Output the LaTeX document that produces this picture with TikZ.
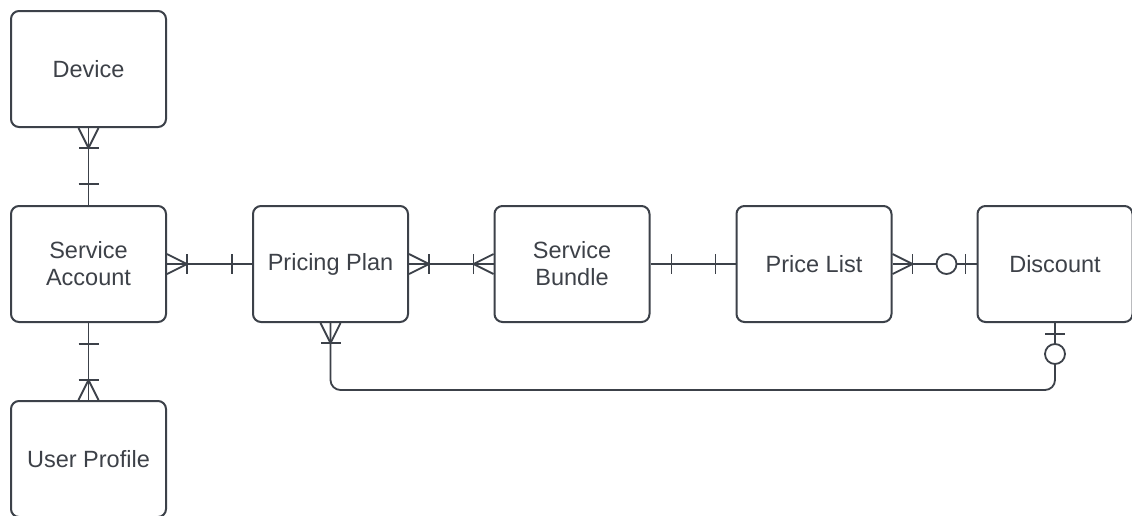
\documentclass[tikz,border=0pt]{standalone}
\usepackage{fontspec}
\setmainfont{Liberation Sans}
\definecolor{lncol}{HTML}{3C4149}
\definecolor{txcol}{HTML}{3D4148}
\tikzset{
  entity/.style={draw=lncol, line width=2pt, rounded corners=8pt, fill=white,
    minimum width=155pt, minimum height=116pt, inner sep=0pt, align=center,
    text=txcol, font=\fontsize{23.5}{27}\selectfont},
  rel/.style={draw=lncol, line width=1.8pt},
  crowmany/.pic={\draw[rel] (0pt,10pt) -- (20pt,0pt) -- (0pt,-10pt); \draw[rel] (20pt,10pt) -- (20pt,-10pt);},
  barone/.pic={\draw[rel] (0pt,10pt) -- (0pt,-10pt);},
  ringzero/.pic={\draw[rel, fill=white] (0pt,0pt) circle (10pt);}
}
\begin{document}
\begin{tikzpicture}[x=1pt,y=-1pt]
\path[use as bounding box, fill=white] (0,0) rectangle (1132,515);
\node[entity] (dev) at (88.5,69) {Device};
\node[entity] (sa) at (88.5,264) {Service\\Account};
\node[entity] (up) at (88.5,459) {User Profile};
\node[entity] (pp) at (330.5,264) {Pricing Plan};
\node[entity] (sb) at (572,264) {Service\\Bundle};
\node[entity] (pl) at (814,264) {Price List};
\node[entity] (disc) at (1055,264) {Discount};
% connectors
\draw[rel] (dev.south) -- (sa.north);
\draw[rel] (sa.south) -- (up.north);
\draw[rel] (sa.east) -- (pp.west);
\draw[rel] (pp.east) -- (sb.west);
\draw[rel] (sb.east) -- (pl.west);
\draw[rel] (pl.east) -- (disc.west);
\coordinate (c1) at (pp.south |- 0,390);
\coordinate (c2) at (disc.south |- 0,390);
\draw[rel, rounded corners=10pt] (pp.south) -- (c1) -- (c2) -- (disc.south);
% ends
\pic[rotate=-90] at (dev.south) {crowmany};
\pic[rotate=90] at ([yshift=21pt]sa.north) {barone};
\pic[rotate=90] at ([yshift=-21pt]sa.south) {barone};
\pic[rotate=90] at (up.north) {crowmany};
\pic at (sa.east) {crowmany};
\pic at ([xshift=-20pt]pp.west) {barone};
\pic at (pp.east) {crowmany};
\pic[rotate=180] at (sb.west) {crowmany};
\pic at ([xshift=21pt]sb.east) {barone};
\pic at ([xshift=-20pt]pl.west) {barone};
\pic at (pl.east) {crowmany};
\pic at ([xshift=-11pt]disc.west) {barone};
\pic at ([xshift=-30pt]disc.west) {ringzero};
\pic[rotate=-90] at (pp.south) {crowmany};
\pic[rotate=90] at ([yshift=-11pt]disc.south) {barone};
\pic at ([yshift=-31pt]disc.south) {ringzero};
\end{tikzpicture}
\end{document}
